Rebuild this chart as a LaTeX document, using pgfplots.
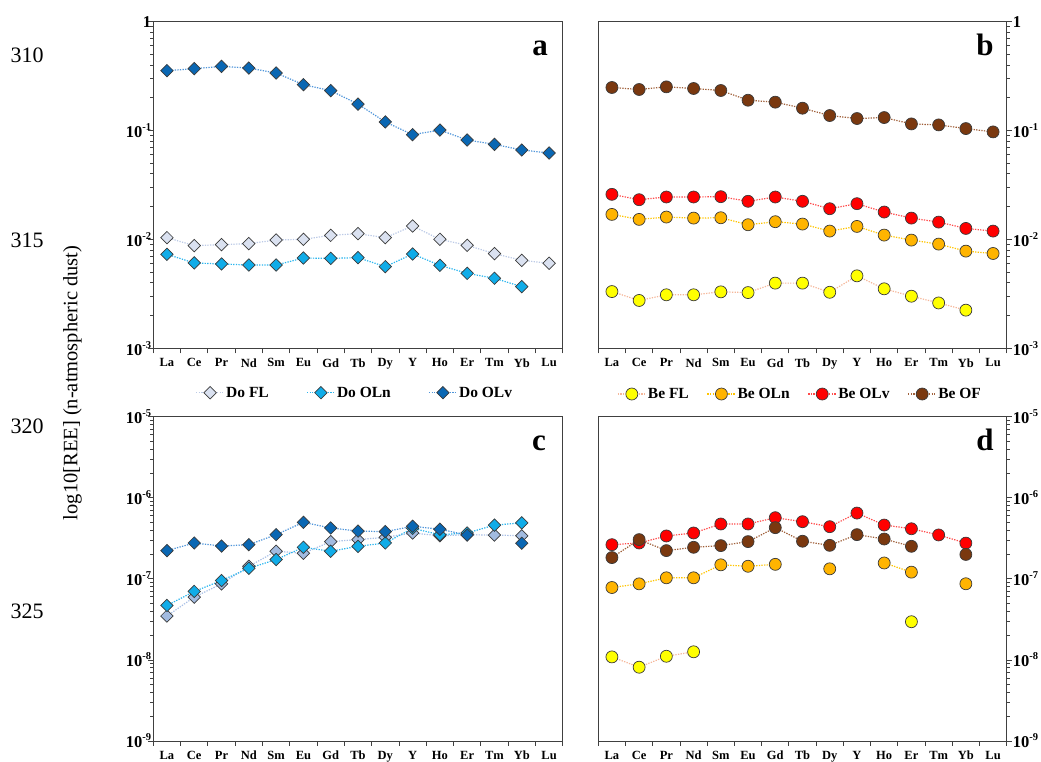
\documentclass[border=0pt]{standalone}
\usepackage{fontspec}
\setmainfont{Liberation Serif}
\usepackage{pgfplots}
\usepackage{pgfplotstable}
\pgfplotsset{compat=1.18}

\definecolor{frame}{HTML}{404040}
\definecolor{edge}{HTML}{3A3A3A}
\definecolor{FLa}{HTML}{DAE1F0}
\definecolor{FLaline}{HTML}{BCCAE6}
\definecolor{FLc}{HTML}{A2BBE0}
\definecolor{FLcline}{HTML}{A9C0E6}
\definecolor{OLn}{HTML}{10ACE8}
\definecolor{OLnline}{HTML}{2BB5EE}
\definecolor{OLv}{HTML}{0A67B3}
\definecolor{OLvline}{HTML}{4F95DA}
\definecolor{BFL}{HTML}{FFFF00}
\definecolor{BFLline}{HTML}{F5B79A}
\definecolor{BOLn}{HTML}{FFB400}
\definecolor{BOLnline}{HTML}{FFC400}
\definecolor{BOLv}{HTML}{FF0000}
\definecolor{BOLvline}{HTML}{FF4A4A}
\definecolor{BOF}{HTML}{7A380F}
\definecolor{BOFline}{HTML}{A0603A}

\newcommand\tp[1]{\textbf{10}\raisebox{0.42em}{\fontsize{10.5}{10.5}\selectfont\bfseries #1}}
\newcommand\plabfont{\fontsize{31}{31}\selectfont\bfseries}
\newcommand\legfont{\fontsize{15.5}{16}\selectfont\bfseries}
\newcommand\xtfont{\fontsize{12.5}{13}\selectfont\bfseries}
\newcommand\ytfont{\fontsize{16.5}{16.5}\selectfont\bfseries}

\pgfplotstableread{
x FL OLn OLv
1 0.01038 0.0073 0.355
2 0.00877 0.00608 0.370
3 0.00895 0.00595 0.389
4 0.00915 0.00582 0.375
5 0.00988 0.00582 0.338
6 0.01002 0.00675 0.264
7 0.01091 0.0067 0.2325
8 0.0113 0.0068 0.175
9 0.01038 0.00562 0.120
10 0.01329 0.00735 0.0917
11 0.01002 0.00578 0.101
12 0.00883 0.00488 0.0819
13 0.0074 0.0044 0.0747
14 0.00643 0.00368 0.0663
15 0.00604 nan 0.0622
}\tabA

\pgfplotstableread{
x FL OLn OLv OF
1 0.00332 0.01698 0.02595 0.2487
2 0.00275 0.01528 0.02317 0.2384
3 0.0031 0.01605 0.02453 0.252
4 0.0031 0.0157 0.02453 0.2435
5 0.0033 0.01582 0.0247 0.2334
6 0.00325 0.01365 0.0224 0.190
7 0.00397 0.01455 0.02453 0.1823
8 0.00397 0.01384 0.0224 0.1605
9 0.00327 0.01193 0.01915 0.1374
10 0.00463 0.01317 0.0213 0.129
11 0.00352 0.01096 0.01785 0.1317
12 0.00301 0.00986 0.0157 0.1151
13 0.00261 0.00906 0.01443 0.1127
14 0.00224 0.00781 0.01262 0.1043
15 nan 0.00743 0.01193 0.0972
}\tabB

\pgfplotstableread{
x FL OLn OLv
1 3.48e-8 4.70e-8 2.23e-7
2 5.95e-8 6.99e-8 2.77e-7
3 8.68e-8 9.54e-8 2.54e-7
4 1.43e-7 1.35e-7 2.64e-7
5 2.19e-7 1.73e-7 3.51e-7
6 2.07e-7 2.45e-7 4.98e-7
7 2.88e-7 2.19e-7 4.24e-7
8 3.05e-7 2.52e-7 3.89e-7
9 3.25e-7 2.77e-7 3.82e-7
10 3.68e-7 4.2e-7 4.45e-7
11 3.4e-7 3.5e-7 4.1e-7
12 3.5e-7 3.68e-7 3.47e-7
13 3.47e-7 4.6e-7 nan
14 3.4e-7 4.9e-7 2.75e-7
15 nan nan nan
}\tabC

\pgfplotstableread{
x FL OLn OLv OF
1 1.09e-8 7.82e-8 2.64e-7 1.83e-7
2 8.13e-9 8.68e-8 2.77e-7 3.05e-7
3 1.11e-8 1.03e-7 3.38e-7 2.23e-7
4 1.26e-8 1.03e-7 3.68e-7 2.45e-7
5 nan 1.49e-7 4.75e-7 2.57e-7
6 nan 1.43e-7 4.75e-7 2.88e-7
7 nan 1.51e-7 5.68e-7 4.28e-7
8 nan nan 5.07e-7 2.91e-7
9 nan 1.33e-7 4.40e-7 2.59e-7
10 nan nan 6.48e-7 3.51e-7
11 nan 1.57e-7 4.61e-7 3.1e-7
12 2.96e-8 1.21e-7 4.15e-7 2.52e-7
13 nan nan 3.48e-7 nan
14 nan 8.7e-8 2.76e-7 2.0e-7
15 nan nan nan nan
}\tabD

\begin{document}
\begin{tikzpicture}
\path[use as bounding box] (0pt,0pt) rectangle (1041pt,762pt);

% panel a
\begin{axis}[scale only axis, ymode=log, log basis y=10,
  at={(153.3pt,413.7pt)}, anchor=south west, width=409.4pt, height=326.6pt,
  xmin=0.5, xmax=15.5, xtick={0.5,1.5,...,15.5},
  xticklabels={La,Ce,Pr,Nd,Sm,Eu,Gd,Tb,Dy,Y,Ho,Er,Tm,Yb,Lu,{}},
  xticklabel style={font=\xtfont, inner sep=3pt, xshift=13.65pt, yshift=-2pt},
  ymin=1e-3, ymax=1, ytick={1e-3,1e-2,1e-1,1},
  yticklabels={\tp{-3},\tp{-2},\tp{-1},\textbf{1}},
  minor ytick={2e-3,3e-3,4e-3,5e-3,6e-3,7e-3,8e-3,9e-3,2e-2,3e-2,4e-2,5e-2,6e-2,7e-2,8e-2,9e-2,0.2,0.3,0.4,0.5,0.6,0.7,0.8,0.9},
  yticklabel style={font=\ytfont, inner sep=1pt, xshift=4pt},
  tick align=outside, xtick pos=left, ytick pos=left,
  major tick length=5pt, minor tick length=3pt,
  axis line style={draw=frame, line width=1pt},
  tick style={color=frame, line width=0.8pt},
  unbounded coords=jump, clip=false,
  legend columns=3, legend cell align=left,
  legend image code/.code={\draw[mark repeat=2,mark phase=2] plot coordinates {(0pt,0pt) (14pt,0pt) (28pt,0pt)};},
  legend style={draw=none, fill=none, font=\legfont, nodes={inner sep=1.5pt},
    /tikz/every even column/.append style={column sep=36pt},
    at={(0.4915,-0.136)}, anchor=center}]
\addplot[line width=1.2pt, dash pattern=on 1.3pt off 1.3pt, color=FLaline, mark=square*, mark size=4.4pt,
    mark options={rotate=45, solid, fill=FLa, draw=edge, line width=0.7pt}] table[x=x,y=FL]{\tabA};
\addplot[line width=1.2pt, dash pattern=on 1.3pt off 1.3pt, color=OLnline, mark=square*, mark size=4.4pt,
    mark options={rotate=45, solid, fill=OLn, draw=edge, line width=0.7pt}] table[x=x,y=OLn]{\tabA};
\addplot[line width=1.2pt, dash pattern=on 1.3pt off 1.3pt, color=OLvline, mark=square*, mark size=4.4pt,
    mark options={rotate=45, solid, fill=OLv, draw=edge, line width=0.7pt}] table[x=x,y=OLv]{\tabA};
\legend{Do FL, Do OLn, Do OLv}
\node[font=\plabfont, anchor=base] at (rel axis cs:0.945,0.898) {a};
\end{axis}

% panel b
\begin{axis}[scale only axis, ymode=log, log basis y=10,
  at={(598.3pt,413.7pt)}, anchor=south west, width=408.4pt, height=326.6pt,
  xmin=0.5, xmax=15.5, xtick={0.5,1.5,...,15.5},
  xticklabels={La,Ce,Pr,Nd,Sm,Eu,Gd,Tb,Dy,Y,Ho,Er,Tm,Yb,Lu,{}},
  xticklabel style={font=\xtfont, inner sep=3pt, xshift=13.61pt, yshift=-2pt},
  ymin=1e-3, ymax=1, ytick={1e-3,1e-2,1e-1,1},
  yticklabels={\tp{-3},\tp{-2},\tp{-1},\textbf{1}},
  minor ytick={2e-3,3e-3,4e-3,5e-3,6e-3,7e-3,8e-3,9e-3,2e-2,3e-2,4e-2,5e-2,6e-2,7e-2,8e-2,9e-2,0.2,0.3,0.4,0.5,0.6,0.7,0.8,0.9},
  yticklabel style={font=\ytfont, inner sep=1pt},
  tick align=outside, xtick pos=left, ytick pos=right, yticklabel pos=right,
  major tick length=5pt, minor tick length=3pt,
  axis line style={draw=frame, line width=1pt},
  tick style={color=frame, line width=0.8pt},
  unbounded coords=jump, clip=false,
  legend columns=4, legend cell align=left,
  legend image code/.code={\draw[mark repeat=2,mark phase=2] plot coordinates {(0pt,0pt) (14pt,0pt) (28pt,0pt)};},
  legend style={draw=none, fill=none, font=\legfont, nodes={inner sep=1.5pt},
    /tikz/every even column/.append style={column sep=16.5pt},
    at={(0.4934,-0.14)}, anchor=center}]
\addplot[line width=1.2pt, dash pattern=on 1.3pt off 1.3pt, color=BFLline, mark=*, mark size=6pt,
    mark options={solid, fill=BFL, draw=edge, line width=0.7pt}] table[x=x,y=FL]{\tabB};
\addplot[line width=1.2pt, dash pattern=on 1.3pt off 1.3pt, color=BOLnline, mark=*, mark size=6pt,
    mark options={solid, fill=BOLn, draw=edge, line width=0.7pt}] table[x=x,y=OLn]{\tabB};
\addplot[line width=1.2pt, dash pattern=on 1.3pt off 1.3pt, color=BOLvline, mark=*, mark size=6pt,
    mark options={solid, fill=BOLv, draw=edge, line width=0.7pt}] table[x=x,y=OLv]{\tabB};
\addplot[line width=1.2pt, dash pattern=on 1.3pt off 1.3pt, color=BOFline, mark=*, mark size=6pt,
    mark options={solid, fill=BOF, draw=edge, line width=0.7pt}] table[x=x,y=OF]{\tabB};
\legend{Be FL, Be OLn, Be OLv, Be OF}
\node[font=\plabfont, anchor=base] at (rel axis cs:0.947,0.898) {b};
\end{axis}

% panel c
\begin{axis}[scale only axis, ymode=log, log basis y=10,
  at={(153.3pt,21pt)}, anchor=south west, width=409.4pt, height=324.3pt,
  xmin=0.5, xmax=15.5, xtick={0.5,1.5,...,15.5},
  xticklabels={La,Ce,Pr,Nd,Sm,Eu,Gd,Tb,Dy,Y,Ho,Er,Tm,Yb,Lu,{}},
  xticklabel style={font=\xtfont, inner sep=3pt, xshift=13.65pt, yshift=-2pt},
  ymin=1e-9, ymax=1e-5, ytick={1e-9,1e-8,1e-7,1e-6,1e-5},
  yticklabels={\tp{-9},\tp{-8},\tp{-7},\tp{-6},\tp{-5}},
  minor ytick={2e-9,3e-9,4e-9,5e-9,6e-9,7e-9,8e-9,9e-9,2e-8,3e-8,4e-8,5e-8,6e-8,7e-8,8e-8,9e-8,2e-7,3e-7,4e-7,5e-7,6e-7,7e-7,8e-7,9e-7,2e-6,3e-6,4e-6,5e-6,6e-6,7e-6,8e-6,9e-6},
  yticklabel style={font=\ytfont, inner sep=1pt, xshift=4pt},
  tick align=outside, xtick pos=left, ytick pos=left,
  major tick length=5pt, minor tick length=3pt,
  axis line style={draw=frame, line width=1pt},
  tick style={color=frame, line width=0.8pt},
  unbounded coords=jump, clip=false]
\addplot[line width=1.2pt, dash pattern=on 1.3pt off 1.3pt, color=FLcline, mark=square*, mark size=4.4pt,
    mark options={rotate=45, solid, fill=FLc, draw=edge, line width=0.7pt}] table[x=x,y=FL]{\tabC};
\addplot[line width=1.2pt, dash pattern=on 1.3pt off 1.3pt, color=OLnline, mark=square*, mark size=4.4pt,
    mark options={rotate=45, solid, fill=OLn, draw=edge, line width=0.7pt}] table[x=x,y=OLn]{\tabC};
\addplot[line width=1.2pt, dash pattern=on 1.3pt off 1.3pt, color=OLvline, mark=square*, mark size=4.4pt,
    mark options={rotate=45, solid, fill=OLv, draw=edge, line width=0.7pt}] table[x=x,y=OLv]{\tabC};
\node[font=\plabfont, anchor=base] at (rel axis cs:0.942,0.897) {c};
\end{axis}

% panel d
\begin{axis}[scale only axis, ymode=log, log basis y=10,
  at={(598.3pt,21pt)}, anchor=south west, width=408.4pt, height=324.3pt,
  xmin=0.5, xmax=15.5, xtick={0.5,1.5,...,15.5},
  xticklabels={La,Ce,Pr,Nd,Sm,Eu,Gd,Tb,Dy,Y,Ho,Er,Tm,Yb,Lu,{}},
  xticklabel style={font=\xtfont, inner sep=3pt, xshift=13.61pt, yshift=-2pt},
  ymin=1e-9, ymax=1e-5, ytick={1e-9,1e-8,1e-7,1e-6,1e-5},
  yticklabels={\tp{-9},\tp{-8},\tp{-7},\tp{-6},\tp{-5}},
  minor ytick={2e-9,3e-9,4e-9,5e-9,6e-9,7e-9,8e-9,9e-9,2e-8,3e-8,4e-8,5e-8,6e-8,7e-8,8e-8,9e-8,2e-7,3e-7,4e-7,5e-7,6e-7,7e-7,8e-7,9e-7,2e-6,3e-6,4e-6,5e-6,6e-6,7e-6,8e-6,9e-6},
  yticklabel style={font=\ytfont, inner sep=1pt},
  tick align=outside, xtick pos=left, ytick pos=right, yticklabel pos=right,
  major tick length=5pt, minor tick length=3pt,
  axis line style={draw=frame, line width=1pt},
  tick style={color=frame, line width=0.8pt},
  unbounded coords=jump, clip=false]
\addplot[line width=1.2pt, dash pattern=on 1.3pt off 1.3pt, color=BFLline, mark=*, mark size=6pt,
    mark options={solid, fill=BFL, draw=edge, line width=0.7pt}] table[x=x,y=FL]{\tabD};
\addplot[line width=1.2pt, dash pattern=on 1.3pt off 1.3pt, color=BOLnline, mark=*, mark size=6pt,
    mark options={solid, fill=BOLn, draw=edge, line width=0.7pt}] table[x=x,y=OLn]{\tabD};
\addplot[line width=1.2pt, dash pattern=on 1.3pt off 1.3pt, color=BOLvline, mark=*, mark size=6pt,
    mark options={solid, fill=BOLv, draw=edge, line width=0.7pt}] table[x=x,y=OLv]{\tabD};
\addplot[line width=1.2pt, dash pattern=on 1.3pt off 1.3pt, color=BOFline, mark=*, mark size=6pt,
    mark options={solid, fill=BOF, draw=edge, line width=0.7pt}] table[x=x,y=OF]{\tabD};
\node[font=\plabfont, anchor=base] at (rel axis cs:0.947,0.897) {d};
\end{axis}

\node[rotate=90, font=\fontsize{20.5}{21}\selectfont] at (72.5pt,379pt) {log10[REE] (n-atmospheric dust)};
\foreach \n/\yy in {310/707, 315/522, 320/336, 325/151}
  \node[font=\fontsize{22}{22}\selectfont] at (27pt,\yy pt) {\n};
\end{tikzpicture}
\end{document}
